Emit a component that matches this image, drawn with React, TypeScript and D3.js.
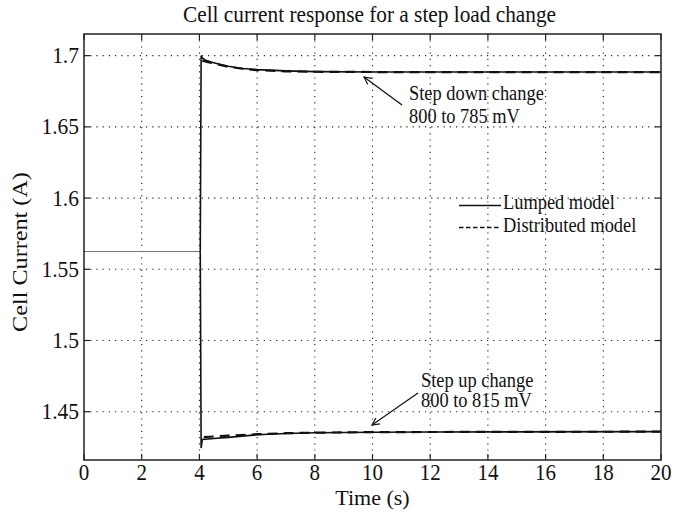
import React from "react";
import * as d3 from "d3";

const xTicks = [0, 2, 4, 6, 8, 10, 12, 14, 16, 18, 20];
const yTicks = [1.45, 1.5, 1.55, 1.6, 1.65, 1.7];
const yTickLabels = ["1.45", "1.5", "1.55", "1.6", "1.65", "1.7"];

const preTime = [0, 4.03];
const preValue = [1.5625, 1.5625];

const lumpedDownTime = [4.03, 4.06, 4.1, 4.2, 4.4, 4.7, 5, 5.5, 6, 7, 8, 10, 12, 20];
const lumpedDownValue = [1.5625, 1.7, 1.6985, 1.697, 1.6955, 1.694, 1.6925, 1.691, 1.6902, 1.6893, 1.6888, 1.6885, 1.6885, 1.6885];
const distDownTime = [4.1, 4.3, 4.6, 5, 5.5, 6, 7, 8, 10, 20];
const distDownValue = [1.6965, 1.6955, 1.694, 1.6922, 1.6908, 1.6898, 1.689, 1.6887, 1.6885, 1.6885];

const lumpedUpTime = [4.03, 4.06, 4.1, 4.5, 5, 6, 7, 8, 10, 12, 20];
const lumpedUpValue = [1.5625, 1.4245, 1.4305, 1.4312, 1.432, 1.4338, 1.4347, 1.4352, 1.4356, 1.4358, 1.436];
const distUpTime = [4.15, 4.5, 5, 6, 7, 8, 10, 20];
const distUpValue = [1.4322, 1.4326, 1.4332, 1.4342, 1.4349, 1.4353, 1.4357, 1.436];

const W = 688, H = 514;
const M = { left: 84, right: 661, top: 34, bottom: 460 };
const font = "'Liberation Serif', 'Times New Roman', serif";

function T({ x, y, size, anchor = "start", sy = 1.1, children }: any) {
  // reference is slightly stretched vertically
  return (
    <text transform={`translate(${x},${y}) scale(1,${sy})`} textAnchor={anchor} fontFamily={font} fontSize={size} fill="#111">
      {children}
    </text>
  );
}

export default function App() {
  const x = d3.scaleLinear().domain([0, 20]).range([M.left, M.right]);
  const y = d3.scaleLinear().domain([1.4161, 1.7152]).range([M.bottom, M.top]);
  const line = d3.line<[number, number]>().x(d => x(d[0])).y(d => y(d[1]));
  const mk = (t: number[], v: number[]) => line(t.map((ti, i) => [ti, v[i]] as [number, number])) || "";
  const tl = 6;
  return (
    <svg width={W} height={H} style={{ position: "absolute", left: 0, top: 0, background: "#fff" }}>
      <rect x={0} y={0} width={W} height={H} fill="#fff" />
      <defs>
        <marker id="arr" viewBox="0 0 10 10" refX={9} refY={5} markerWidth={9} markerHeight={9} markerUnits="userSpaceOnUse" orient="auto">
          <path d="M1,1 L9,5 L1,9" fill="none" stroke="#111" strokeWidth={1.3} />
        </marker>
      </defs>
      {/* grid */}
      {xTicks.slice(1, -1).map(t => (
        <line key={"gx" + t} x1={x(t)} x2={x(t)} y1={M.top} y2={M.bottom} stroke="#222" strokeWidth={1.1} strokeDasharray="1.2 5" />
      ))}
      {yTicks.map(t => (
        <line key={"gy" + t} x1={M.left} x2={M.right} y1={y(t)} y2={y(t)} stroke="#222" strokeWidth={1.1} strokeDasharray="1.2 5" />
      ))}
      {/* data */}
      <path d={mk(preTime, preValue)} fill="none" stroke="#777" strokeWidth={1.2} />
      <path d={mk(lumpedDownTime, lumpedDownValue)} fill="none" stroke="#111" strokeWidth={1.6} />
      <path d={mk(lumpedUpTime, lumpedUpValue)} fill="none" stroke="#111" strokeWidth={1.6} />
      <path d={mk(distDownTime, distDownValue)} fill="none" stroke="#111" strokeWidth={2.2} strokeDasharray="10 6" />
      <path d={mk(distUpTime, distUpValue)} fill="none" stroke="#111" strokeWidth={2.2} strokeDasharray="10 6" />
      {/* box */}
      <rect x={M.left} y={M.top} width={M.right - M.left} height={M.bottom - M.top} fill="none" stroke="#222" strokeWidth={1.5} />
      {xTicks.map(t => (
        <g key={"tx" + t}>
          <line x1={x(t)} x2={x(t)} y1={M.bottom} y2={M.bottom - tl} stroke="#222" strokeWidth={1.2} />
          <line x1={x(t)} x2={x(t)} y1={M.top} y2={M.top + tl} stroke="#222" strokeWidth={1.2} />
          <T x={x(t)} y={480} size={21} sy={1.05} anchor="middle">{t}</T>
        </g>
      ))}
      {yTicks.map((t, i) => (
        <g key={"ty" + t}>
          <line x1={M.left} x2={M.left + tl} y1={y(t)} y2={y(t)} stroke="#222" strokeWidth={1.2} />
          <line x1={M.right} x2={M.right - tl} y1={y(t)} y2={y(t)} stroke="#222" strokeWidth={1.2} />
          <T x={M.left - 5} y={y(t) + 7.5} size={21.5} anchor="end">{yTickLabels[i]}</T>
        </g>
      ))}
      {/* title & labels */}
      <T x={(M.left + M.right) / 2 - 3} y={22} size={21.3} anchor="middle">Cell current response for a step load change</T>
      <T x={(M.left + M.right) / 2} y={505} size={22} sy={1} anchor="middle">Time (s)</T>
      <text transform={`translate(27, 252) rotate(-90) scale(1.1,1)`} textAnchor="middle" fontFamily={font} fontSize={22} fill="#111">Cell Current (A)</text>
      {/* annotations */}
      <line x1={402} y1={105} x2={364} y2={77} stroke="#111" strokeWidth={1.3} markerEnd="url(#arr)" />
      <T x={409} y={99.5} size={18.4}>Step down change</T>
      <T x={409} y={122.5} size={18.4}>800 to 785 mV</T>
      <line x1={418} y1={393} x2={372} y2={425} stroke="#111" strokeWidth={1.3} markerEnd="url(#arr)" />
      <T x={421} y={386.5} size={18.4}>Step up change</T>
      <T x={421} y={407} size={18.4}>800 to 815 mV</T>
      {/* legend */}
      <line x1={459} x2={501} y1={205.5} y2={205.5} stroke="#111" strokeWidth={1.5} />
      <T x={503} y={209} size={18.4}>Lumped model</T>
      <line x1={459} x2={501} y1={227.5} y2={227.5} stroke="#111" strokeWidth={1.5} strokeDasharray="4.5 2.5" />
      <T x={503} y={231.5} size={18.4}>Distributed model</T>
    </svg>
  );
}
